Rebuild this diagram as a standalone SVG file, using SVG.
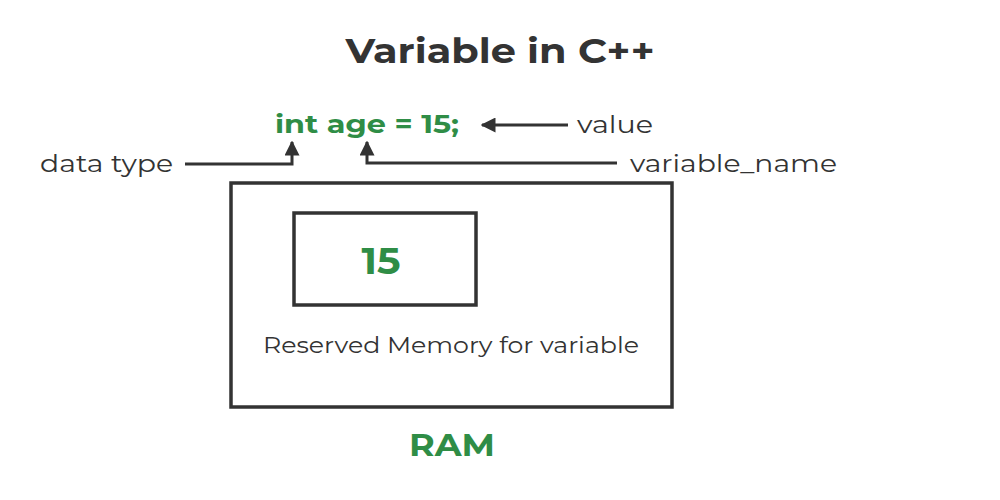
<svg xmlns="http://www.w3.org/2000/svg" width="1000" height="500" viewBox="0 0 1000 500">
<style>
.t{font-family:"Montserrat","Noto Sans","Open Sans",sans-serif;fill:#333}
.g{font-family:"Montserrat","Noto Sans","Open Sans",sans-serif;fill:#2f8d46;font-weight:bold}
.box{fill:none;stroke:#333;stroke-width:3.5}
.c{fill:none;stroke:#333;stroke-width:3}
</style>
<defs>
<marker id="ah" viewBox="0 0 10 10" refX="9" refY="5" markerWidth="5" markerHeight="5" orient="auto" markerUnits="strokeWidth">
<path d="M0,0 L10,5 L0,10 Z" fill="#333"/>
</marker>
</defs>
<rect width="1000" height="500" fill="#fff"/>
<g id="title"><text class="t" x="500" y="63" font-size="34" font-weight="bold" text-anchor="middle" textLength="309" lengthAdjust="spacingAndGlyphs">Variable in C++</text></g>
<g id="code"><text class="g" x="275" y="133" font-size="26" textLength="184" lengthAdjust="spacingAndGlyphs">int age = 15;</text></g>
<g id="value"><text class="t" x="577" y="133" font-size="24" textLength="76" lengthAdjust="spacingAndGlyphs">value</text></g>
<g id="datatype"><text class="t" x="40" y="172" font-size="24" textLength="133" lengthAdjust="spacingAndGlyphs">data type</text></g>
<g id="varname"><text class="t" x="630" y="172" font-size="24" textLength="207" lengthAdjust="spacingAndGlyphs">variable_name</text></g>
<g id="ram-box">
<rect class="box" x="231" y="183" width="441" height="224"/>
<text class="t" x="451" y="353" font-size="22" text-anchor="middle" textLength="376" lengthAdjust="spacingAndGlyphs">Reserved Memory for variable</text>
</g>
<g id="memory-cell">
<rect class="box" x="294" y="213" width="182" height="92"/>
<text class="g" x="381" y="274" font-size="37" text-anchor="middle" textLength="39" lengthAdjust="spacingAndGlyphs">15</text>
</g>
<g id="ram-label"><text class="g" x="452" y="456" font-size="31" text-anchor="middle" textLength="86" lengthAdjust="spacingAndGlyphs">RAM</text></g>
<g id="connectors">
<path class="c" d="M568,125 L482,125" marker-end="url(#ah)"/>
<path class="c" d="M185,164 L292,164 L292,142" marker-end="url(#ah)"/>
<path class="c" d="M617,163 L367,163 L367,142" marker-end="url(#ah)"/>
</g>
</svg>
